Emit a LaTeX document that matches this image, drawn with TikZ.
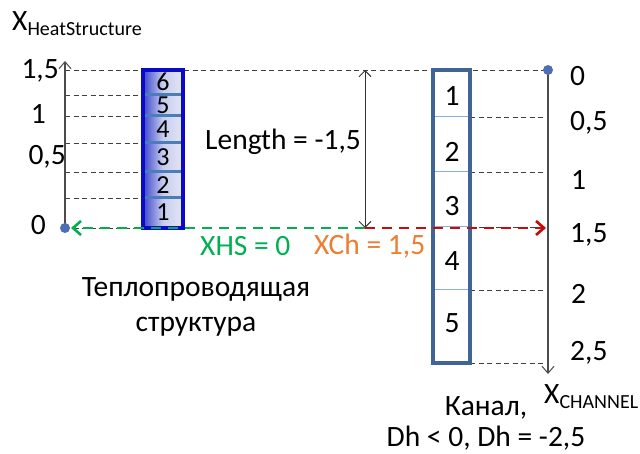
\documentclass[tikz,border=0pt]{standalone}
\usepackage{fontspec}
\setmainfont{Carlito}
\usetikzlibrary{arrows.meta}
\definecolor{dotblue}{RGB}{75,110,180}
\definecolor{hsborder}{RGB}{10,10,200}
\definecolor{hsdiv}{RGB}{75,125,185}
\definecolor{chborder}{RGB}{65,100,150}
\definecolor{chdiv}{RGB}{140,175,220}
\definecolor{xgreen}{RGB}{0,176,80}
\definecolor{xorange}{RGB}{237,125,49}
\definecolor{xred}{RGB}{200,10,10}
\newcommand\subsz{\fontsize{20}{22}\selectfont}
\tikzset{
  txt/.style={font=\fontsize{29.5}{35}\selectfont, inner sep=0pt},
  celltxt/.style={font=\fontsize{26}{28}\selectfont, inner sep=0pt},
  guide/.style={black!75, line width=0.9pt, dash pattern=on 5pt off 3.5pt},
  axisline/.style={black!70, line width=1.1pt},
  opentip/.style={-{Straight Barb[length=7pt,width=12pt,line width=1pt]}},
  pointdot/.style={circle, fill=dotblue, inner sep=0pt, minimum size=10pt},
  flowarrow/.style={line width=2.6pt, dash pattern=on 10pt off 7pt,
    -{Straight Barb[length=8pt,width=14pt,line width=2.6pt]}},
}
\begin{document}
\begin{tikzpicture}[x=1pt,y=-1pt]
\useasboundingbox (0,0) rectangle (640,454);

% axis points
\coordinate (hsO) at (65,228);
\coordinate (hsTip) at (65,61);
\coordinate (chO) at (548,70);
\coordinate (chTip) at (548,374);

% dashed guides for the heat structure levels
\foreach \yy [count=\i] in {95,116,143,172,198}
  \draw[guide] (65,\yy) coordinate (hl\i) -- (143,\yy) coordinate (hr\i);
\draw[guide] (65,70) coordinate (topL) -- (548,70) coordinate (topR);
\draw[guide] (hsO) -- (143,228) coordinate (hsBot);

% dashed guides for the channel levels
\foreach \yy [count=\i] in {117,172,227,290,363}
  \draw[guide] (470,\yy) coordinate (cl\i) -- (548,\yy) coordinate (cr\i);

% heat structure column
\shade[left color={rgb,255:red,60;green,70;blue,205},
       right color={rgb,255:red,228;green,230;blue,246},
       middle color={rgb,255:red,200;green,205;blue,238}]
  (143,70) rectangle (183,228);
\foreach \yy in {95,116,143,172,198}
  \draw[hsdiv, line width=3pt] (144,\yy) -- (182,\yy);
\draw[hsborder, line width=3.2pt] (143,70) rectangle (183,228);
\foreach \n/\yy in {6/82,5/105,4/129,3/157,2/185,1/212}
  \node[celltxt] (hs\n) at (163,\yy) {\n};

% channel column
\foreach \yy in {117,172,227,290}
  \draw[chdiv, line width=1pt] (433,\yy) -- (470,\yy);
\draw[chborder, line width=4pt] (433,70) rectangle (470,363);
\foreach \n/\yy in {1/96,2/152,3/206,4/261,5/323}
  \node[txt] (ch\n) at (452,\yy) {\n};

% axes
\draw[axisline, opentip] (hsO) -- (hsTip);
\draw[axisline, opentip] (chO) -- (chTip);
\node[pointdot] (dotL) at (hsO) {};
\node[pointdot] (dotR) at (chO) {};

% length marker
\coordinate (lenTop) at (365,70);
\coordinate (lenBot) at (365,228);
\draw[black!80, line width=0.9pt, {Straight Barb[length=6pt,width=12pt,line width=1pt]}-{Straight Barb[length=6pt,width=12pt,line width=1pt]}]
  (lenTop) -- (lenBot);
\node[txt, anchor=west] (len) at (205,142) {Length = -1,5};

% coordinate transfer arrows
\draw[flowarrow, xred] (lenBot) -- (546,228) coordinate (redEnd);
\draw[flowarrow, xgreen] (lenBot) -- (71,228) coordinate (greenEnd);
\node[txt, text=xgreen, anchor=west] (xhs) at (200,246) {XHS = 0};
\node[txt, text=xorange, anchor=west] (xch) at (314,246) {XCh = 1,5};

% heat structure axis labels
\node[txt, anchor=west] (xhsName) at (12,24) {X\raisebox{-0.35ex}{\subsz HeatStructure}};
\node[txt, anchor=east] (l15) at (59,71) {1,5};
\node[txt, anchor=east] (l10) at (46,114) {1};
\node[txt, anchor=east] (l05) at (66,157) {0,5};
\node[txt, anchor=east] (l00) at (46,225) {0};

% channel axis labels
\node[txt, anchor=west] (r00) at (570,76) {0};
\node[txt, anchor=west] (r05) at (570,123) {0,5};
\node[txt, anchor=west] (r10) at (571,180) {1};
\node[txt, anchor=west] (r15) at (570,235) {1,5};
\node[txt, anchor=west] (r20) at (571,294) {2};
\node[txt, anchor=west] (r25) at (570,353) {2,5};
\node[txt, anchor=west] (xchName) at (544,397) {X\raisebox{-0.35ex}{\subsz CHANNEL}};

% captions
\node[txt, align=center] (hsCap) at (196,307) {Теплопроводящая\\структура};
\node[txt, align=center, font=\fontsize{29.5}{31}\selectfont] (chCap) at (486,423) {Канал,\\Dh < 0, Dh = -2,5};
\end{tikzpicture}
\end{document}
